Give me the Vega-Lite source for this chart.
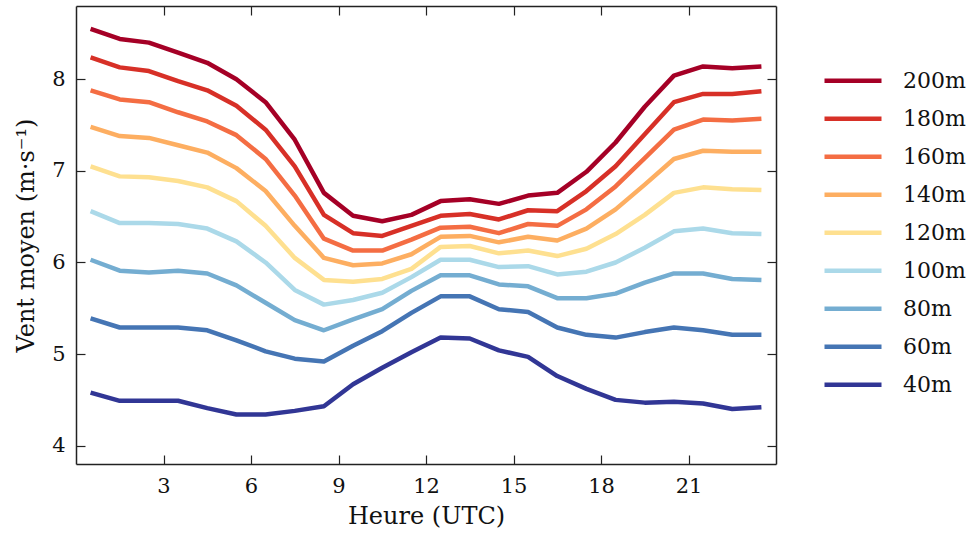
{
  "$schema": "https://vega.github.io/schema/vega-lite/v6.json",
  "width": 700,
  "height": 458,
  "autosize": "none",
  "padding": {"left": 76, "top": 6, "right": 192, "bottom": 74},
  "background": "white",
  "config": {
    "font": "DejaVu Serif",
    "view": {"stroke": null},
    "axis": {
      "domainColor": "#222", "domainWidth": 1.5, "tickColor": "#222", "tickWidth": 1.2,
      "grid": false, "labelFont": "DejaVu Serif", "titleFont": "DejaVu Serif",
      "labelColor": "#111", "titleColor": "#111", "titleFontWeight": "normal",
      "labelFontSize": 21, "titleFontSize": 24
    },
    "legend": {"labelFont": "DejaVu Serif", "labelFontSize": 22, "labelColor": "#111"}
  },
  "data": {"values": [
    {"h":0.5,"alt":"200m","v":8.55},{"h":1.5,"alt":"200m","v":8.44},{"h":2.5,"alt":"200m","v":8.40},{"h":3.5,"alt":"200m","v":8.29},{"h":4.5,"alt":"200m","v":8.18},{"h":5.5,"alt":"200m","v":8.00},{"h":6.5,"alt":"200m","v":7.75},{"h":7.5,"alt":"200m","v":7.34},{"h":8.5,"alt":"200m","v":6.76},{"h":9.5,"alt":"200m","v":6.51},{"h":10.5,"alt":"200m","v":6.45},{"h":11.5,"alt":"200m","v":6.52},{"h":12.5,"alt":"200m","v":6.67},{"h":13.5,"alt":"200m","v":6.69},{"h":14.5,"alt":"200m","v":6.64},{"h":15.5,"alt":"200m","v":6.73},{"h":16.5,"alt":"200m","v":6.76},{"h":17.5,"alt":"200m","v":6.99},{"h":18.5,"alt":"200m","v":7.31},{"h":19.5,"alt":"200m","v":7.70},{"h":20.5,"alt":"200m","v":8.04},{"h":21.5,"alt":"200m","v":8.14},{"h":22.5,"alt":"200m","v":8.12},{"h":23.5,"alt":"200m","v":8.14},
    {"h":0.5,"alt":"180m","v":8.24},{"h":1.5,"alt":"180m","v":8.13},{"h":2.5,"alt":"180m","v":8.09},{"h":3.5,"alt":"180m","v":7.98},{"h":4.5,"alt":"180m","v":7.88},{"h":5.5,"alt":"180m","v":7.71},{"h":6.5,"alt":"180m","v":7.45},{"h":7.5,"alt":"180m","v":7.05},{"h":8.5,"alt":"180m","v":6.52},{"h":9.5,"alt":"180m","v":6.32},{"h":10.5,"alt":"180m","v":6.29},{"h":11.5,"alt":"180m","v":6.40},{"h":12.5,"alt":"180m","v":6.51},{"h":13.5,"alt":"180m","v":6.53},{"h":14.5,"alt":"180m","v":6.47},{"h":15.5,"alt":"180m","v":6.57},{"h":16.5,"alt":"180m","v":6.56},{"h":17.5,"alt":"180m","v":6.78},{"h":18.5,"alt":"180m","v":7.05},{"h":19.5,"alt":"180m","v":7.40},{"h":20.5,"alt":"180m","v":7.75},{"h":21.5,"alt":"180m","v":7.84},{"h":22.5,"alt":"180m","v":7.84},{"h":23.5,"alt":"180m","v":7.87},
    {"h":0.5,"alt":"160m","v":7.88},{"h":1.5,"alt":"160m","v":7.78},{"h":2.5,"alt":"160m","v":7.75},{"h":3.5,"alt":"160m","v":7.64},{"h":4.5,"alt":"160m","v":7.54},{"h":5.5,"alt":"160m","v":7.39},{"h":6.5,"alt":"160m","v":7.13},{"h":7.5,"alt":"160m","v":6.73},{"h":8.5,"alt":"160m","v":6.26},{"h":9.5,"alt":"160m","v":6.13},{"h":10.5,"alt":"160m","v":6.13},{"h":11.5,"alt":"160m","v":6.25},{"h":12.5,"alt":"160m","v":6.38},{"h":13.5,"alt":"160m","v":6.39},{"h":14.5,"alt":"160m","v":6.32},{"h":15.5,"alt":"160m","v":6.42},{"h":16.5,"alt":"160m","v":6.40},{"h":17.5,"alt":"160m","v":6.58},{"h":18.5,"alt":"160m","v":6.83},{"h":19.5,"alt":"160m","v":7.14},{"h":20.5,"alt":"160m","v":7.45},{"h":21.5,"alt":"160m","v":7.56},{"h":22.5,"alt":"160m","v":7.55},{"h":23.5,"alt":"160m","v":7.57},
    {"h":0.5,"alt":"140m","v":7.48},{"h":1.5,"alt":"140m","v":7.38},{"h":2.5,"alt":"140m","v":7.36},{"h":3.5,"alt":"140m","v":7.28},{"h":4.5,"alt":"140m","v":7.20},{"h":5.5,"alt":"140m","v":7.03},{"h":6.5,"alt":"140m","v":6.78},{"h":7.5,"alt":"140m","v":6.40},{"h":8.5,"alt":"140m","v":6.05},{"h":9.5,"alt":"140m","v":5.97},{"h":10.5,"alt":"140m","v":5.99},{"h":11.5,"alt":"140m","v":6.09},{"h":12.5,"alt":"140m","v":6.28},{"h":13.5,"alt":"140m","v":6.29},{"h":14.5,"alt":"140m","v":6.22},{"h":15.5,"alt":"140m","v":6.28},{"h":16.5,"alt":"140m","v":6.24},{"h":17.5,"alt":"140m","v":6.37},{"h":18.5,"alt":"140m","v":6.58},{"h":19.5,"alt":"140m","v":6.85},{"h":20.5,"alt":"140m","v":7.13},{"h":21.5,"alt":"140m","v":7.22},{"h":22.5,"alt":"140m","v":7.21},{"h":23.5,"alt":"140m","v":7.21},
    {"h":0.5,"alt":"120m","v":7.05},{"h":1.5,"alt":"120m","v":6.94},{"h":2.5,"alt":"120m","v":6.93},{"h":3.5,"alt":"120m","v":6.89},{"h":4.5,"alt":"120m","v":6.82},{"h":5.5,"alt":"120m","v":6.67},{"h":6.5,"alt":"120m","v":6.40},{"h":7.5,"alt":"120m","v":6.05},{"h":8.5,"alt":"120m","v":5.81},{"h":9.5,"alt":"120m","v":5.79},{"h":10.5,"alt":"120m","v":5.82},{"h":11.5,"alt":"120m","v":5.93},{"h":12.5,"alt":"120m","v":6.17},{"h":13.5,"alt":"120m","v":6.18},{"h":14.5,"alt":"120m","v":6.10},{"h":15.5,"alt":"120m","v":6.13},{"h":16.5,"alt":"120m","v":6.07},{"h":17.5,"alt":"120m","v":6.15},{"h":18.5,"alt":"120m","v":6.31},{"h":19.5,"alt":"120m","v":6.52},{"h":20.5,"alt":"120m","v":6.76},{"h":21.5,"alt":"120m","v":6.82},{"h":22.5,"alt":"120m","v":6.80},{"h":23.5,"alt":"120m","v":6.79},
    {"h":0.5,"alt":"100m","v":6.56},{"h":1.5,"alt":"100m","v":6.43},{"h":2.5,"alt":"100m","v":6.43},{"h":3.5,"alt":"100m","v":6.42},{"h":4.5,"alt":"100m","v":6.37},{"h":5.5,"alt":"100m","v":6.23},{"h":6.5,"alt":"100m","v":6.00},{"h":7.5,"alt":"100m","v":5.70},{"h":8.5,"alt":"100m","v":5.54},{"h":9.5,"alt":"100m","v":5.59},{"h":10.5,"alt":"100m","v":5.67},{"h":11.5,"alt":"100m","v":5.84},{"h":12.5,"alt":"100m","v":6.03},{"h":13.5,"alt":"100m","v":6.03},{"h":14.5,"alt":"100m","v":5.95},{"h":15.5,"alt":"100m","v":5.96},{"h":16.5,"alt":"100m","v":5.87},{"h":17.5,"alt":"100m","v":5.90},{"h":18.5,"alt":"100m","v":6.00},{"h":19.5,"alt":"100m","v":6.16},{"h":20.5,"alt":"100m","v":6.34},{"h":21.5,"alt":"100m","v":6.37},{"h":22.5,"alt":"100m","v":6.32},{"h":23.5,"alt":"100m","v":6.31},
    {"h":0.5,"alt":"80m","v":6.03},{"h":1.5,"alt":"80m","v":5.91},{"h":2.5,"alt":"80m","v":5.89},{"h":3.5,"alt":"80m","v":5.91},{"h":4.5,"alt":"80m","v":5.88},{"h":5.5,"alt":"80m","v":5.75},{"h":6.5,"alt":"80m","v":5.56},{"h":7.5,"alt":"80m","v":5.37},{"h":8.5,"alt":"80m","v":5.26},{"h":9.5,"alt":"80m","v":5.38},{"h":10.5,"alt":"80m","v":5.49},{"h":11.5,"alt":"80m","v":5.69},{"h":12.5,"alt":"80m","v":5.86},{"h":13.5,"alt":"80m","v":5.86},{"h":14.5,"alt":"80m","v":5.76},{"h":15.5,"alt":"80m","v":5.74},{"h":16.5,"alt":"80m","v":5.61},{"h":17.5,"alt":"80m","v":5.61},{"h":18.5,"alt":"80m","v":5.66},{"h":19.5,"alt":"80m","v":5.78},{"h":20.5,"alt":"80m","v":5.88},{"h":21.5,"alt":"80m","v":5.88},{"h":22.5,"alt":"80m","v":5.82},{"h":23.5,"alt":"80m","v":5.81},
    {"h":0.5,"alt":"60m","v":5.39},{"h":1.5,"alt":"60m","v":5.29},{"h":2.5,"alt":"60m","v":5.29},{"h":3.5,"alt":"60m","v":5.29},{"h":4.5,"alt":"60m","v":5.26},{"h":5.5,"alt":"60m","v":5.15},{"h":6.5,"alt":"60m","v":5.03},{"h":7.5,"alt":"60m","v":4.95},{"h":8.5,"alt":"60m","v":4.92},{"h":9.5,"alt":"60m","v":5.09},{"h":10.5,"alt":"60m","v":5.25},{"h":11.5,"alt":"60m","v":5.45},{"h":12.5,"alt":"60m","v":5.63},{"h":13.5,"alt":"60m","v":5.63},{"h":14.5,"alt":"60m","v":5.49},{"h":15.5,"alt":"60m","v":5.46},{"h":16.5,"alt":"60m","v":5.29},{"h":17.5,"alt":"60m","v":5.21},{"h":18.5,"alt":"60m","v":5.18},{"h":19.5,"alt":"60m","v":5.24},{"h":20.5,"alt":"60m","v":5.29},{"h":21.5,"alt":"60m","v":5.26},{"h":22.5,"alt":"60m","v":5.21},{"h":23.5,"alt":"60m","v":5.21},
    {"h":0.5,"alt":"40m","v":4.58},{"h":1.5,"alt":"40m","v":4.49},{"h":2.5,"alt":"40m","v":4.49},{"h":3.5,"alt":"40m","v":4.49},{"h":4.5,"alt":"40m","v":4.41},{"h":5.5,"alt":"40m","v":4.34},{"h":6.5,"alt":"40m","v":4.34},{"h":7.5,"alt":"40m","v":4.38},{"h":8.5,"alt":"40m","v":4.43},{"h":9.5,"alt":"40m","v":4.67},{"h":10.5,"alt":"40m","v":4.85},{"h":11.5,"alt":"40m","v":5.02},{"h":12.5,"alt":"40m","v":5.18},{"h":13.5,"alt":"40m","v":5.17},{"h":14.5,"alt":"40m","v":5.04},{"h":15.5,"alt":"40m","v":4.97},{"h":16.5,"alt":"40m","v":4.76},{"h":17.5,"alt":"40m","v":4.62},{"h":18.5,"alt":"40m","v":4.50},{"h":19.5,"alt":"40m","v":4.47},{"h":20.5,"alt":"40m","v":4.48},{"h":21.5,"alt":"40m","v":4.46},{"h":22.5,"alt":"40m","v":4.40},{"h":23.5,"alt":"40m","v":4.42}
  ]},
  "layer": [
    {
      "mark": {"type": "line", "strokeWidth": 4.5, "strokeJoin": "round", "strokeCap": "butt"},
      "encoding": {
        "x": {"field": "h", "type": "quantitative",
              "scale": {"domain": [0, 24], "nice": false, "zero": false},
              "axis": {"orient": "bottom", "values": [3,6,9,12,15,18,21], "tickSize": -9, "labelPadding": 20, "title": "Heure (UTC)", "titlePadding": 8, "labelFlush": false}},
        "y": {"field": "v", "type": "quantitative",
              "scale": {"domain": [3.8, 8.8], "nice": false, "zero": false},
              "axis": {"orient": "left", "values": [4,5,6,7,8], "tickSize": -9, "labelPadding": 20, "title": "Vent moyen (m·s⁻¹)", "titlePadding": 13, "labelFlush": false}},
        "color": {"field": "alt", "type": "nominal",
                  "scale": {"domain": ["200m","180m","160m","140m","120m","100m","80m","60m","40m"],
                            "range": ["#a50026","#d73027","#f46d43","#fdae61","#fee090","#abd9e9","#74add1","#4575b4","#313695"]},
                  "legend": {"title": null, "orient": "none", "legendX": 746, "legendY": 56,
                             "symbolType": "stroke", "symbolSize": 3249, "symbolStrokeWidth": 4.5,
                             "labelOffset": 19, "rowPadding": 0, "clipHeight": 37.5, "padding": 0}}
      }
    },
    {
      "mark": {"type": "line", "opacity": 0},
      "encoding": {
        "x": {"field": "h", "type": "quantitative",
              "axis": {"orient": "top", "values": [3,6,9,12,15,18,21], "tickSize": -9, "labels": false, "title": null}},
        "y": {"field": "v", "type": "quantitative",
              "axis": {"orient": "right", "values": [4,5,6,7,8], "tickSize": -9, "labels": false, "title": null}},
        "detail": {"field": "alt"}
      }
    }
  ],
  "resolve": {"axis": {"x": "independent", "y": "independent"}}
}
